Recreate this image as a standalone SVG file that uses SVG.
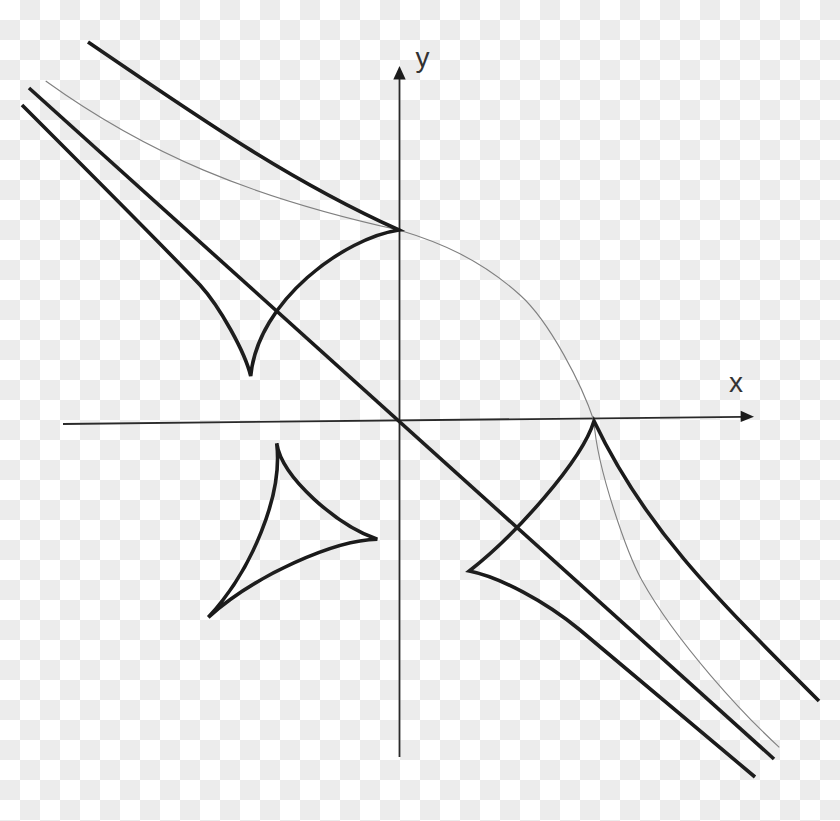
<svg xmlns="http://www.w3.org/2000/svg" width="840" height="821" viewBox="0 0 840 821">
<defs>
<pattern id="chk" width="40" height="40" patternUnits="userSpaceOnUse">
<rect width="40" height="40" fill="#ffffff"/>
<rect x="20" y="0" width="20" height="20" fill="#ececec"/>
<rect x="0" y="20" width="20" height="20" fill="#ececec"/>
</pattern>
<style>
.thick{fill:none;stroke:#1c1c1c;stroke-width:3.6;stroke-linejoin:miter;stroke-linecap:butt}
.thin{fill:none;stroke:#808080;stroke-width:1.1}
.axis{fill:none;stroke:#2a2a2a;stroke-width:1.8}
.head{fill:#1c1c1c;stroke:none}
.lbl{font-family:"Liberation Sans","DejaVu Sans",sans-serif;font-size:28px;fill:#333;text-anchor:middle}
</style>
</defs>
<rect width="840" height="821" fill="url(#chk)"/>
<g id="axes">
<g id="x-axis">
<line class="axis" x1="63" y1="424" x2="742" y2="416.8"/>
<polygon class="head" points="754,416.7 740.7,410.7 740.7,421.9"/>
<text class="lbl" x="736" y="391.5">x</text>
</g>
<g id="y-axis">
<line class="axis" x1="399.5" y1="757" x2="399.5" y2="78"/>
<polygon class="head" points="399.5,66 393.3,79.5 405.7,79.5"/>
<text class="lbl" x="422.5" y="67">y</text>
</g>
</g>
<g id="curve">
<path class="thin" d="M45.7,81 C145.7,153 249,197 399,230 C439,242 480,259 520,295 C550,322 582,385 594,421 C597,470 628,555 641.7,580 C676.7,643 744.3,715.3 779.3,747.3"/>
</g>
<g id="asymptote">
<line class="thick" x1="29" y1="88" x2="774" y2="759"/>
</g>
<g id="branch-upper-left">
<path class="thick" d="M88,42 C198,117 289,180.5 399,230 C345,238 258,300 250.7,376 C245,352 220,307 200,285 C160,243 80,163 22,105"/>
</g>
<g id="branch-lower-right">
<path class="thick" d="M819,701 C709,591 644,526 594,421 C582,461 514.3,536 469.3,571 C499.3,577 545,601 580,630 L755,777"/>
</g>
<g id="deltoid">
<path class="thick" d="M276.7,443.3 C282,478 337.3,525.3 377.3,539.3 C335,540 255,575 208.3,617.3 C252,570 283,495 276.7,443.3 Z"/>
</g>
</svg>
